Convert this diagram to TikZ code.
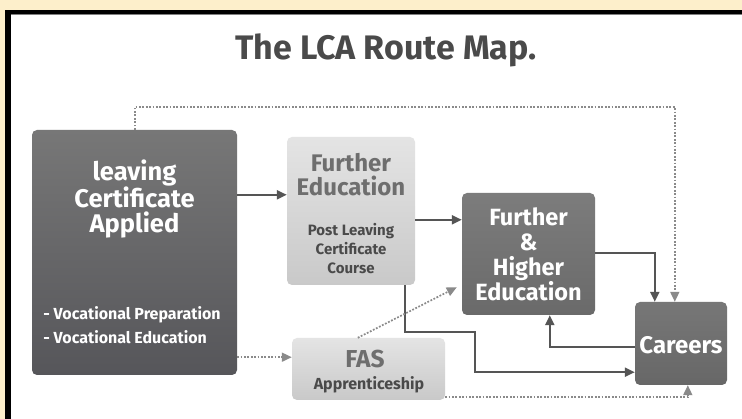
\documentclass[tikz,border=0pt]{standalone}
\usepackage{fontspec}
\setmainfont{Fira Sans}
\usetikzlibrary{arrows.meta,calc}
\definecolor{cream}{HTML}{FDEFCB}
\definecolor{linec}{HTML}{555555}
\definecolor{dotc}{HTML}{8A8A8A}
\definecolor{darktxt}{HTML}{4A4A4A}
\definecolor{lighttxt}{HTML}{6E6E6E}
\definecolor{lcatop}{HTML}{777777}
\definecolor{lcabot}{HTML}{56565A}
\definecolor{fhetop}{HTML}{7C7C7C}
\definecolor{fhebot}{HTML}{6A6A6A}
\definecolor{cartopc}{HTML}{777777}
\definecolor{carbotc}{HTML}{676767}
\definecolor{lttop}{HTML}{E4E4E4}
\definecolor{ltbot}{HTML}{C9C9C9}
\tikzset{
  box/.style={rectangle, rounded corners=5pt, inner sep=0pt, draw=none},
  darkbox/.style 2 args={box, top color=#1, bottom color=#2},
  lightbox/.style={box, top color=lttop, bottom color=ltbot},
  wtxt/.style={text=white, font=\bfseries, align=center, inner sep=0pt},
  gtxt/.style={text=lighttxt, font=\bfseries, align=center, inner sep=0pt},
  solidarrow/.style={draw=linec, line width=2pt, -{Triangle[length=10pt,width=9pt]}},
  dotarrow/.style={draw=dotc, line width=1.7pt, dash pattern=on 1.8pt off 1.6pt, -{Triangle[length=10pt,width=9pt]}},
}
\begin{document}
\begin{tikzpicture}[x=1pt,y=-1pt]
\useasboundingbox (0,0) rectangle (742,419);
\fill[cream] (0,0) rectangle (742,419);
\fill[white] (11,14) rectangle (742,419);
\fill[black] (5,10) rectangle (742,14);
\fill[black] (5,10) rectangle (11,419);
\draw[black!50, line width=0.8pt] (11,14.5) -- (742,14.5);

\node[text=darktxt, font=\fontsize{34}{38}\selectfont\bfseries, inner sep=0pt] (title) at (386,50) {The LCA Route Map.};

% boxes
\node[darkbox={lcatop}{lcabot}, minimum width=205pt, minimum height=245pt] (lca) at (134.5,252.5) {};
\node[lightbox, minimum width=128pt, minimum height=148pt] (fe) at (351,211) {};
\node[lightbox, minimum width=153pt, minimum height=62pt] (fas) at (368.5,369) {};
\node[darkbox={fhetop}{fhebot}, minimum width=133pt, minimum height=122pt] (fhe) at (528.5,254) {};
\node[darkbox={cartopc}{carbotc}, minimum width=92pt, minimum height=83pt] (car) at (681,343.5) {};

% texts
\node[wtxt, font=\fontsize{25.5}{25}\selectfont\bfseries] (lcat) at (134.5,199) {leaving\\Certificate\\Applied};
\node[wtxt, font=\fontsize{16}{24}\selectfont\bfseries, align=left] (lcab) at (132,325) {- Vocational Preparation\\- Vocational Education};
\node[gtxt, font=\fontsize{24}{24}\selectfont\bfseries] (fet) at (351,175) {Further\\Education};
\node[gtxt, text=darktxt, font=\fontsize{15}{19}\selectfont\bfseries] (feb) at (351,249) {Post Leaving\\Certificate\\Course};
\node[gtxt, font=\fontsize{24.5}{25}\selectfont\bfseries] (fast) at (365,359) {FAS};
\node[gtxt, text=darktxt, font=\fontsize{16}{18}\selectfont\bfseries] (fasb) at (369,385) {Apprenticeship};
\node[wtxt, font=\fontsize{23.5}{25}\selectfont\bfseries] (fhet) at (528.5,254.5) {Further\\\&\\Higher\\Education};
\node[wtxt, font=\fontsize{24}{24}\selectfont\bfseries] (cart) at (681,345) {Careers};

% connectors
\coordinate (feo) at ($(fe.south east)+(-10,0)$);
\coordinate (fheo) at ($(fhe.east)+(0,-1)$);
\coordinate (cari) at ($(car.north west)+(20,0)$);
\coordinate (carl) at ($(car.west)+(0,3.5)$);
\coordinate (fhei) at ($(fhe.south west)+(88,0)$);
\coordinate (carl2) at ($(car.south west)+(0,-13)$);
\coordinate (lcat0) at ($(lca.north west)+(103,0)$);
\coordinate (cartop) at ($(car.north west)+(40,0)$);
\coordinate (carbot) at ($(car.south west)+(53,0)$);
\coordinate (faso) at ($(fas.south east)+(0,-3)$);
\coordinate (lcao) at ($(lca.south east)+(0,-18)$);
\coordinate (fasd) at ($(fas.north west)+(66,0)$);
\coordinate (fhed) at ($(fhe.south west)+(-5,-28)$);

\draw[solidarrow] ($(lca.north east)+(0,65)$) -- ($(fe.north west)+(0,58)$);
\draw[solidarrow] ($(fe.north east)+(0,83)$) -- ($(fhe.north west)+(0,27)$);
\draw[solidarrow] (feo) -- ($(feo)+(0,47)$) -| ($(carl2)+(-160,-40)$) |- (carl2);
\draw[solidarrow] (fheo) -| (cari);
\draw[solidarrow] (carl) -| (fhei);
\draw[dotarrow] (lcat0) |- ($(cartop)+(0,-195)$) -- (cartop);
\draw[dotarrow] (lcao) -- (lcao -| fas.west);
\draw[dotarrow] (fasd) -- (fhed);
\draw[dotarrow] (faso) -| (carbot);
\end{tikzpicture}
\end{document}
